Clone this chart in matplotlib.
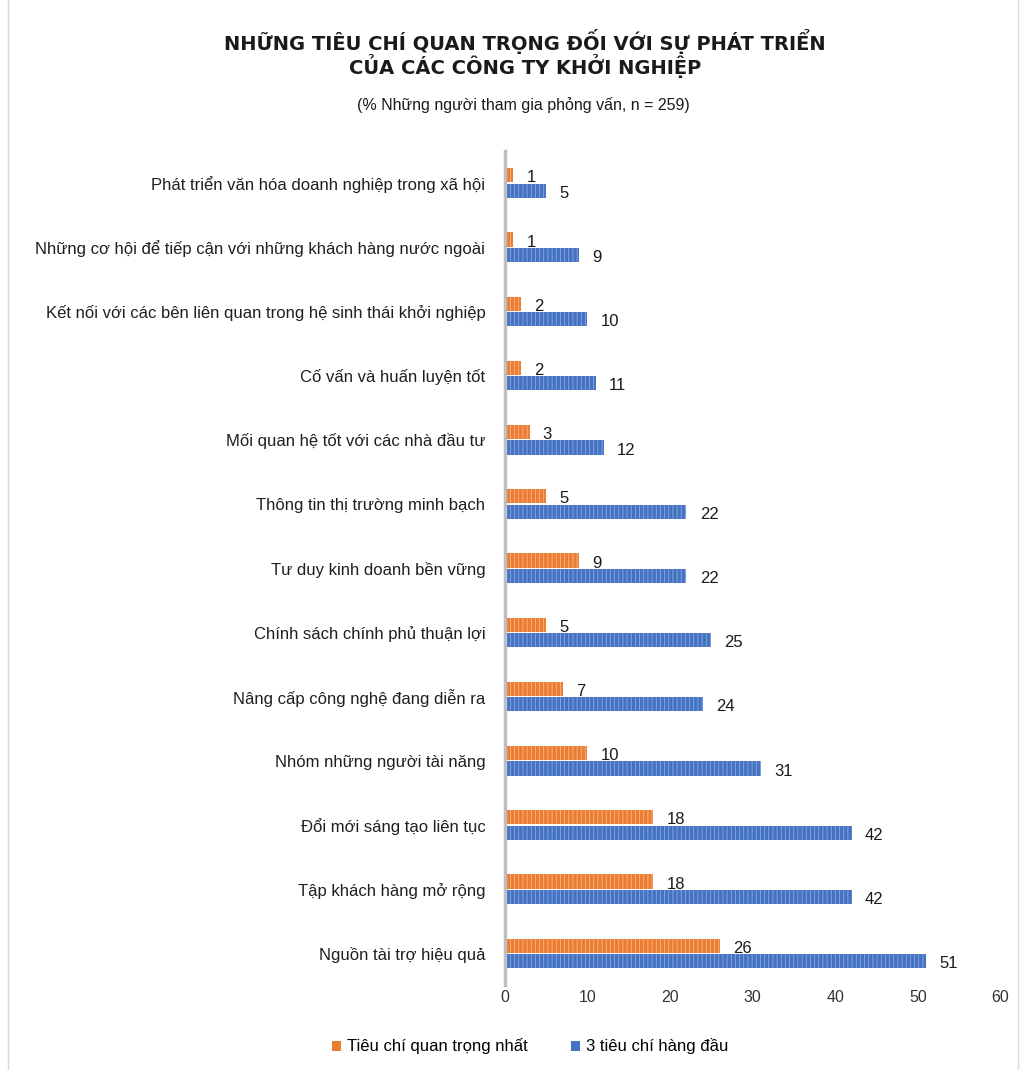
import numpy as np
import matplotlib.pyplot as plt
from matplotlib.patches import Rectangle, Patch

# data (top to bottom as shown)
categories = [
    'Phát triển văn hóa doanh nghiệp trong xã hội',
    'Những cơ hội để tiếp cận với những khách hàng nước ngoài',
    'Kết nối với các bên liên quan trong hệ sinh thái khởi nghiệp',
    'Cố vấn và huấn luyện tốt',
    'Mối quan hệ tốt với các nhà đầu tư',
    'Thông tin thị trường minh bạch',
    'Tư duy kinh doanh bền vững',
    'Chính sách chính phủ thuận lợi',
    'Nâng cấp công nghệ đang diễn ra',
    'Nhóm những người tài năng',
    'Đổi mới sáng tạo liên tục',
    'Tập khách hàng mở rộng',
    'Nguồn tài trợ hiệu quả',
]
top1 = [1, 1, 2, 2, 3, 5, 9, 5, 7, 10, 18, 18, 26]
top3 = [5, 9, 10, 11, 12, 22, 22, 25, 24, 31, 42, 42, 51]
series_names = ['Tiêu chí quan trọng nhất', '3 tiêu chí hàng đầu']

C_OR = '#ED7D31'; C_BL = '#4472C4'
plt.rcParams['font.family'] = ['Liberation Sans', 'DejaVu Sans']
plt.rcParams['hatch.linewidth'] = 0.5

fig = plt.figure(figsize=(10.26, 10.70), dpi=100)
ax = fig.add_axes([0.492, 0.079, 0.483, 0.780])

n = len(categories)
y = np.arange(n)
h = 0.22
b1 = ax.barh(y - h / 2 - 0.01, top1, height=h, color=C_OR, edgecolor='#F7C3A0',
             hatch='||||', linewidth=0, label=series_names[0])
b2 = ax.barh(y + h / 2 + 0.01, top3, height=h, color=C_BL, edgecolor='#9DB5E2',
             hatch='||||', linewidth=0, label=series_names[1])
for bars in (b1, b2):
    for r in bars:
        ax.text(r.get_width() + 1.6, r.get_y() + r.get_height() / 2 + 0.04,
                f'{r.get_width():g}', va='center', ha='left', fontsize=12, color='#1a1a1a')

ax.set_ylim(n - 0.5, -0.5)
ax.set_xlim(0, 60)
ax.set_xticks(range(0, 61, 10))
ax.set_yticks(y)
ax.set_yticklabels(categories, fontsize=12, color='#1f1f1f')
ax.tick_params(axis='y', length=0, pad=14)
ax.tick_params(axis='x', length=0, labelsize=11.5, labelcolor='#333333', pad=3)
for s in ('top', 'right', 'bottom'):
    ax.spines[s].set_visible(False)
ax.spines['left'].set_color('#BFBFBF')
ax.spines['left'].set_linewidth(2.5)

fig.text(0.512, 0.950, 'NHỮNG TIÊU CHÍ QUAN TRỌNG ĐỐI VỚI SỰ PHÁT TRIỂN\nCỦA CÁC CÔNG TY KHỞI NGHIỆP',
         ha='center', va='center', fontsize=14, fontweight='bold', color='#1a1a1a',
         family=['DejaVu Sans'], linespacing=1.0)
fig.text(0.51, 0.902, '(% Những người tham gia phỏng vấn, n = 259)', ha='center', va='center',
         fontsize=11.5, color='#1a1a1a')

handles = [Patch(facecolor=C_OR), Patch(facecolor=C_BL)]
fig.legend(handles=handles, labels=series_names, loc='center', bbox_to_anchor=(0.517, 0.022),
           ncol=2, frameon=False, fontsize=12, handlelength=0.55, handleheight=0.55,
           columnspacing=2.6, handletextpad=0.35)

fig.patches.append(Rectangle((0.008, -0.01), 0.984, 1.05, transform=fig.transFigure,
                             fill=False, edgecolor='#D9D9D9', linewidth=1))

fig.savefig('out.png', dpi=100)
